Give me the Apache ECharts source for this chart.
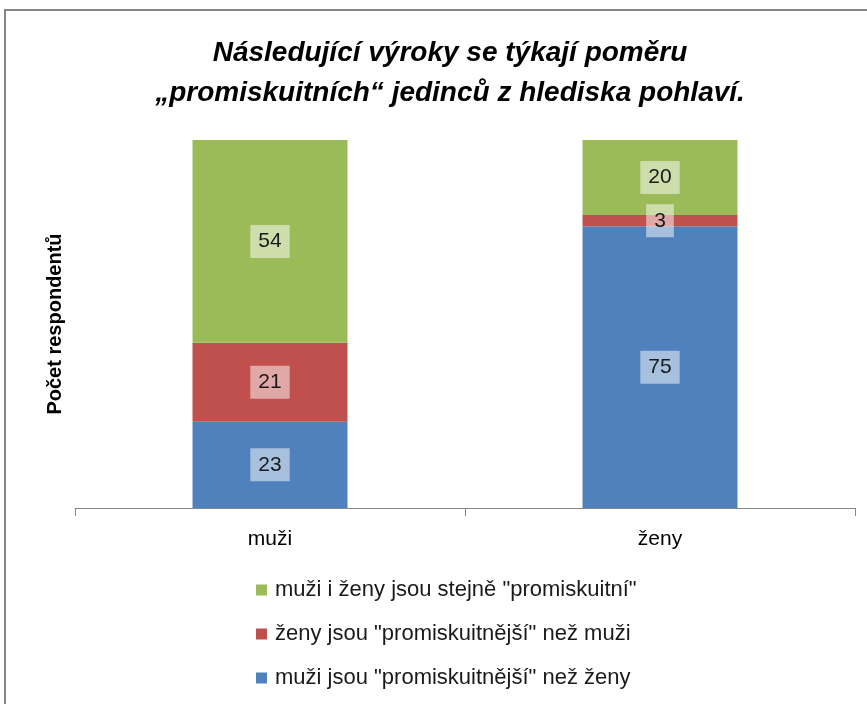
<!DOCTYPE html>
<html>
<head>
<meta charset="utf-8">
<script src="https://cdn.jsdelivr.net/npm/echarts@6/dist/echarts.min.js"></script>
<style>
html,body{margin:0;padding:0;background:#fff;}
#chart{width:867px;height:704px;}
</style>
</head>
<body>
<div id="chart"></div>
<script>
var categories=['muži','ženy'];
var seriesNames=['muži jsou "promiskuitnější" než ženy','ženy jsou "promiskuitnější" než muži','muži i ženy jsou stejně "promiskuitní"'];
var muziVice=[23,75];          //modra
var zenyVice=[21,3];           //cervena
var stejne=[54,20];            //zelena
var colors=['#4F81BD','#C0504D','#9BBB59'];
var font='"Liberation Sans", Arial, sans-serif';

var values=[muziVice,zenyVice,stejne];
var series=[];
for (var i=0;i<values.length;i++){
    series.push({
        name:seriesNames[i],
        type:'bar',
        stack:'all',
        barWidth:155,
        data:values[i],
        itemStyle:{color:colors[i]},
        label:{
            show:true,
            position:'inside',
            color:'#1a1a1a',
            fontFamily:font,
            fontSize:21,
            backgroundColor:'rgba(255,255,255,0.5)',
            padding:[7,8,5,8]
        }
    });
}

var option={
    animation:false,
    textStyle:{fontFamily:font},
    title:{
        text:'Následující výroky se týkají poměru\n„promiskuitních“ jedinců z hlediska pohlaví.',
        left:445,
        textAlign:'center',
        top:28,
        textStyle:{fontSize:28,fontWeight:'bold',fontStyle:'italic',color:'#000',lineHeight:40,fontFamily:font}
    },
    legend:{
        orient:'vertical',
        left:256,
        top:579,
        padding:0,
        itemGap:22,
        itemWidth:11,
        itemHeight:11,
        icon:'rect',
        data:[seriesNames[2],seriesNames[1],seriesNames[0]],     //poradi jako v originale
        textStyle:{fontSize:22,color:'#1a1a1a',fontFamily:font,padding:[0,0,0,3]}
    },
    grid:{left:75,right:12,top:140,bottom:196},
    xAxis:{
        type:'category',
        data:categories,
        axisLine:{lineStyle:{color:'#868686',width:1}},
        axisTick:{show:true,length:8,lineStyle:{color:'#868686'}},
        axisLabel:{fontSize:21,color:'#000',margin:21,fontFamily:font}
    },
    yAxis:{
        type:'value',
        min:0,
        max:98,
        axisLine:{show:false},
        axisTick:{show:false},
        axisLabel:{show:false},
        splitLine:{show:false},
        name:'Počet respondentů',
        nameLocation:'middle',
        nameRotate:90,
        nameGap:10,
        nameTextStyle:{fontSize:20,fontWeight:'bold',color:'#000',fontFamily:font}
    },
    graphic:[{
        type:'rect',
        shape:{x:5,y:10,width:900,height:800},
        style:{fill:'none',stroke:'#868686',lineWidth:2},
        silent:true
    }],
    series:series
};
var myChart=echarts.init(document.getElementById('chart'));
myChart.setOption(option);
</script>
</body>
</html>
